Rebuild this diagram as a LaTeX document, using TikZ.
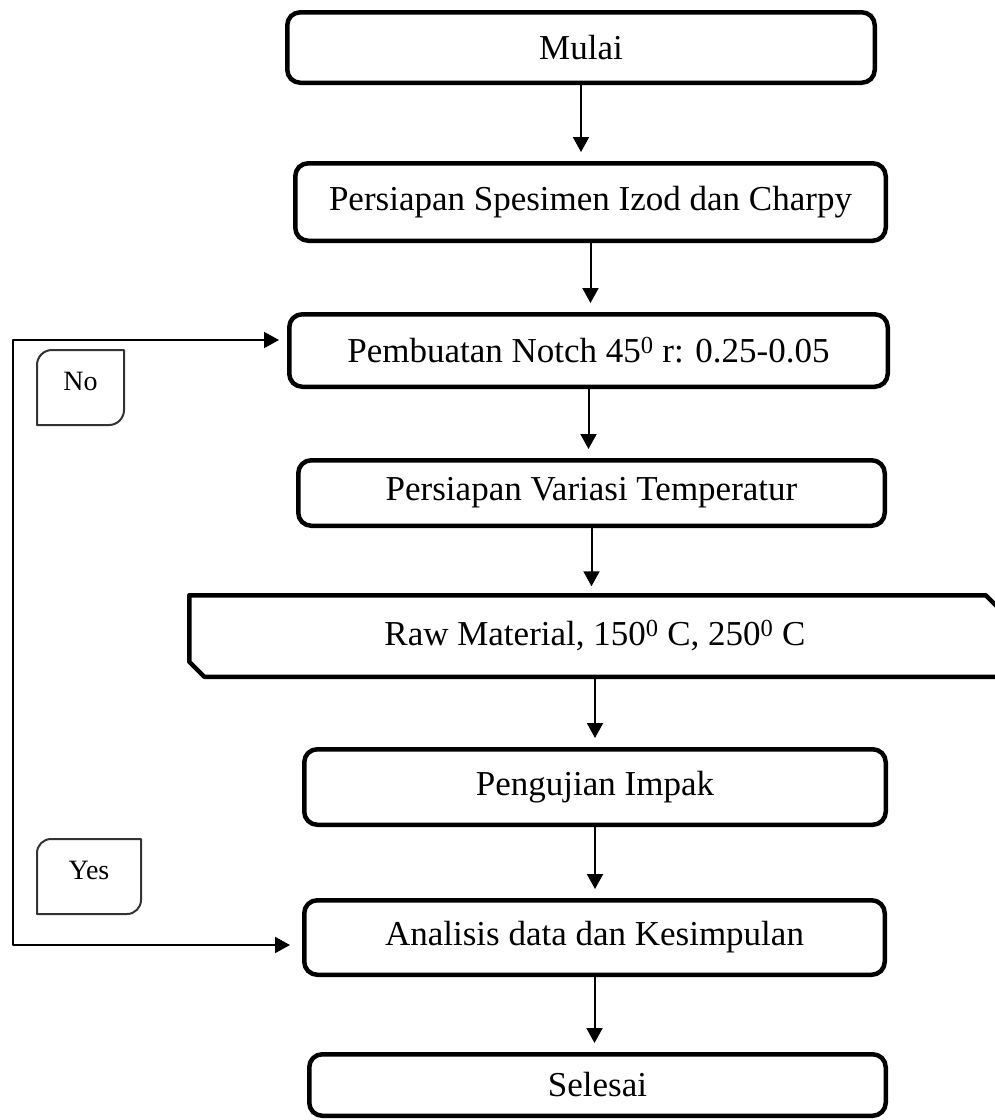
\documentclass[tikz,border=0pt]{standalone}
\usepackage{fontspec}
\setmainfont{Liberation Serif}
\usepackage{tikz}
\usetikzlibrary{arrows.meta}

\begin{document}
\begin{tikzpicture}[x=1pt,y=1pt,>={Triangle[width=16pt,length=15pt]},line join=round]
  \tikzstyle{proc}=[rectangle,draw,line width=4.5pt,rounded corners=13pt,inner sep=0pt,align=center,font=\fontsize{35}{42}\selectfont]
  \tikzstyle{rawbox}=[rectangle,inner sep=0pt,outer sep=0pt,font=\fontsize{35}{42}\selectfont]
  \tikzstyle{tag}=[rectangle,inner sep=0pt,outer sep=0pt,text height=19pt,text depth=13pt,font=\fontsize{28}{33}\selectfont]
  \tikzstyle{tagline}=[draw=black!80,line width=2pt]
  \tikzstyle{link}=[->,line width=2pt,shorten >=9pt]

  \useasboundingbox (0,0) rectangle (995,-1120);

  % steps
  \node[proc,minimum width=587.5pt,minimum height=70.5pt] (mulai) at (581,-47.5) {Mulai};
  \node[proc,minimum width=590.5pt,minimum height=77.5pt] (spesimen) at (590.5,-202) {Persiapan Spesimen Izod dan Charpy};
  \node[proc,minimum width=598.5pt,minimum height=72.5pt] (notch) at (588.5,-350.5) {Pembuatan Notch 45\textsuperscript{0} r: 0.25-0.05};
  \node[proc,minimum width=586.5pt,minimum height=65.5pt] (variasi) at (591.5,-493) {Persiapan Variasi Temperatur};
  \node[rawbox,minimum width=811.5pt,minimum height=81.5pt] (raw) at (595,-636) {Raw Material, 150\textsuperscript{0} C, 250\textsuperscript{0} C};
  \node[proc,minimum width=581.5pt,minimum height=75.5pt] (impak) at (595,-787) {Pengujian Impak};
  \node[proc,minimum width=580.5pt,minimum height=74.5pt] (analisis) at (594.5,-937.5) {Analisis data dan Kesimpulan};
  \node[proc,minimum width=576.5pt,minimum height=61.5pt] (selesai) at (597.5,-1085) {Selesai};

  % snipped box
  \draw[line width=4.5pt] (raw.north west) -- ([xshift=-15pt]raw.north east) -- ([yshift=-15pt]raw.north east)
    -- (raw.south east) -- ([xshift=15pt]raw.south west) -- ([yshift=15pt]raw.south west) -- cycle;

  % decision tags
  \node[tag,minimum width=87pt,minimum height=75pt] (no) at (80.5,-387.5) {No};
  \node[tag,minimum width=104pt,minimum height=75pt] (yes) at (89,-876.5) {Yes};
  \draw[tagline] (no.north east) -- ([yshift=15pt]no.south east) arc (0:-90:15pt)
    -- (no.south west) -- ([yshift=-15pt]no.north west) arc (180:90:15pt) -- cycle;
  \draw[tagline] (yes.north east) -- ([yshift=14pt]yes.south east) arc (0:-90:14pt)
    -- (yes.south west) -- ([yshift=-14pt]yes.north west) arc (180:90:14pt) -- cycle;

  % flow
  \draw[link] (mulai) -- (mulai |- spesimen.north);
  \draw[link] (spesimen) -- (spesimen |- notch.north);
  \draw[link] (notch) -- (notch |- variasi.north);
  \draw[link] (variasi) -- (variasi |- raw.north);
  \draw[link] (raw) -- (raw |- impak.north);
  \draw[link] (impak) -- (impak |- analisis.north);
  \draw[link] (analisis) -- (analisis |- selesai.north);

  % loop back
  \coordinate (loopN) at (13,-340);
  \coordinate (loopY) at (13,-945);
  \draw[link,<->,shorten <=8pt,shorten >=12pt] (notch.west |- loopN) -- (loopN) -- (loopY) -- (analisis.west |- loopY);
\end{tikzpicture}
\end{document}
